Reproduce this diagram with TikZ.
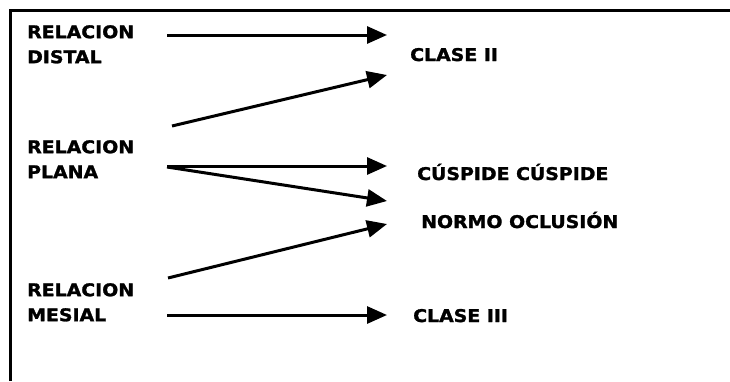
\documentclass[tikz,border=0pt]{standalone}
\usepackage{fontspec}
\newfontfamily\labfont[FakeStretch=1.08,FakeBold=1.5]{DejaVu Sans}
\usetikzlibrary{arrows.meta}
\begin{document}
\begin{tikzpicture}[x=1pt,y=-1pt,
  lab/.style={font=\labfont\bfseries\fontsize{17.5}{25}\selectfont, inner sep=0pt, align=left},
  conn/.style={line width=3pt, -{Triangle[length=20pt,width=17pt]}}]
\useasboundingbox (0,0) rectangle (730,381);
\fill[white] (0,0) rectangle (730,381);
\draw[line width=3pt] (10.5,381) -- (10.5,10) -- (730,10);
% left labels
\node[lab, anchor=north west] (dist) at (27,25) {RELACION\\DISTAL};
\node[lab, anchor=north west] (plan) at (27,140) {RELACION\\PLANA};
\node[lab, anchor=north west] (mes) at (27,283) {RELACION\\MESIAL};
% right labels
\node[lab, anchor=base west] (c2) at (410,61) {CLASE II};
\node[lab, anchor=base west] (cc) at (417,180) {CÚSPIDE CÚSPIDE};
\node[lab, anchor=base west] (no) at (421,228) {NORMO OCLUSIÓN};
\node[lab, anchor=base west] (c3) at (413,322) {CLASE III};
% arrow endpoints
\coordinate (s1) at (167,35);   \coordinate (e1) at (387,35);
\coordinate (s2) at (172,126);  \coordinate (e2) at (387,75);
\coordinate (s3) at (167,166);  \coordinate (e3) at (387,166);
\coordinate (s4) at (167,167);  \coordinate (e4) at (387,201);
\coordinate (s5) at (168,278);  \coordinate (e5) at (387,224);
\coordinate (s6) at (167,315);  \coordinate (e6) at (387,315);
\draw[conn] (s1) -- (e1);
\draw[conn] (s2) -- (e2);
\draw[conn] (s3) -- (e3);
\draw[conn] (s4) -- (e4);
\draw[conn] (s5) -- (e5);
\draw[conn] (s6) -- (e6);
\end{tikzpicture}
\end{document}
